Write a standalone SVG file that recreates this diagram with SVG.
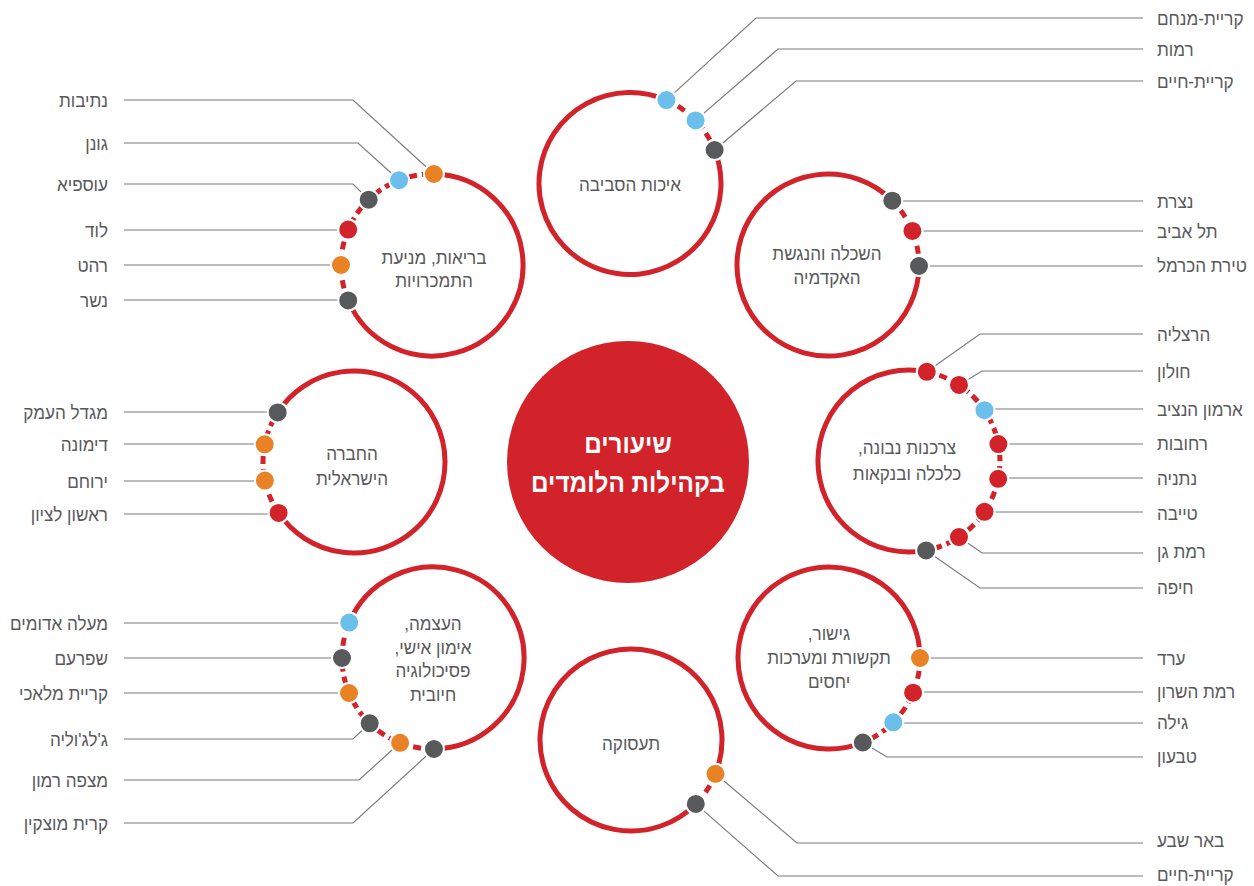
<svg xmlns="http://www.w3.org/2000/svg" width="1254" height="886" viewBox="0 0 1254 886">
<defs>
<style>
.bg{fill:#ffffff}
.ring{fill:none;stroke:#d2232a;stroke-width:5}
.dash{fill:none;stroke:#d2232a;stroke-width:5;stroke-dasharray:8 5}
.con{fill:none;stroke:#7a7b7e;stroke-width:1.2}
.dot{stroke:#ffffff;stroke-width:2}
.red{fill:#d2232a}.gry{fill:#58595b}.blu{fill:#6cbfea}.org{fill:#e88225}
.lbl{font-family:"Liberation Sans","DejaVu Sans",sans-serif;font-size:19px;fill:#58595b}
.ttl{font-family:"Liberation Sans","DejaVu Sans",sans-serif;font-size:19px;fill:#58595b;text-anchor:middle}
.ctr{font-family:"Liberation Sans","DejaVu Sans",sans-serif;font-size:27px;font-weight:bold;fill:#ffffff;text-anchor:middle}
.L{text-anchor:end}.R{text-anchor:start}
</style>
</defs>
<rect class="bg" x="0" y="0" width="1254" height="886"/>

<g id="connectors">
<polyline class="con" points="1143,18 756,18 666.4,100.1"/>
<polyline class="con" points="1143,49 778,49 695.6,120.4"/>
<polyline class="con" points="1143,81 796,81 714.6,150"/>
<polyline class="con" points="1143,201 892.3,201"/>
<polyline class="con" points="1143,231 912.4,231"/>
<polyline class="con" points="1143,266 919,266"/>
<polyline class="con" points="1143,334 980,334 926.8,371.8"/>
<polyline class="con" points="1143,371 982,371 959,384.9"/>
<polyline class="con" points="1143,409 984.5,409"/>
<polyline class="con" points="1143,444 998.4,444"/>
<polyline class="con" points="1143,478 998.2,478"/>
<polyline class="con" points="1143,512 984.5,512"/>
<polyline class="con" points="1143,553 982,553 959,537.1"/>
<polyline class="con" points="1143,588 980,588 926.1,550.4"/>
<polyline class="con" points="1143,658 920,658"/>
<polyline class="con" points="1143,692 913.1,692"/>
<polyline class="con" points="1143,723 893.3,723"/>
<polyline class="con" points="1143,757 887,757 862.8,742.5"/>
<polyline class="con" points="1143,843 797,843 715.5,773.8"/>
<polyline class="con" points="1143,876 778,876 695.8,803.9"/>
<polyline class="con" points="124,100 353,100 433.9,174"/>
<polyline class="con" points="124,143 358,143 399.1,180.2"/>
<polyline class="con" points="124,184 353,184 368.7,199.7"/>
<polyline class="con" points="124,230 348.2,230"/>
<polyline class="con" points="124,265 341,265"/>
<polyline class="con" points="124,300 348.2,300"/>
<polyline class="con" points="124,412 277.7,412"/>
<polyline class="con" points="124,444 264.7,444"/>
<polyline class="con" points="124,481 264.9,481"/>
<polyline class="con" points="124,514 278.6,514"/>
<polyline class="con" points="124,623 349.2,623"/>
<polyline class="con" points="124,658 342,658"/>
<polyline class="con" points="124,693 349,693"/>
<polyline class="con" points="124,739 353,739 369.7,723.3"/>
<polyline class="con" points="124,780 359,780 400.1,742.8"/>
<polyline class="con" points="124,823 353,823 433.95,749"/>
</g>

<g id="center">
<circle class="red" cx="628" cy="462" r="121"/>
<text class="ctr" transform="translate(628,453) scale(0.9,1)">שיעורים</text>
<text class="ctr" transform="translate(628,492) scale(0.9,1)">בקהילות הלומדים</text>
</g>

<g id="node-environment">
<path class="ring" d="M714.6,150 A91,91 0 1 1 666.4,100.1"/>
<path class="dash" d="M666.4,100.1 A91,91 0 0 1 714.6,150"/>
<circle class="dot blu" cx="666.4" cy="100.1" r="10"/>
<circle class="dot blu" cx="695.6" cy="120.4" r="10"/>
<circle class="dot gry" cx="714.6" cy="150" r="10"/>
<text class="ttl" transform="translate(630,191) scale(0.9,1)">איכות הסביבה</text>
<text class="lbl R" transform="translate(1157,25) scale(0.9,1)">קריית-מנחם</text>
<text class="lbl R" transform="translate(1157,56) scale(0.9,1)">רמות</text>
<text class="lbl R" transform="translate(1157,88) scale(0.9,1)">קריית-חיים</text>
</g>

<g id="node-health">
<path class="ring" d="M433.9,174 A91,91 0 1 1 348.2,300.4"/>
<path class="dash" d="M348.2,300.4 A91,91 0 0 1 433.9,174"/>
<circle class="dot org" cx="433.9" cy="174" r="10"/>
<circle class="dot blu" cx="399.1" cy="180.2" r="10"/>
<circle class="dot gry" cx="368.7" cy="199.7" r="10"/>
<circle class="dot red" cx="348.2" cy="229.6" r="10"/>
<circle class="dot org" cx="341" cy="265" r="10"/>
<circle class="dot gry" cx="348.2" cy="300.4" r="10"/>
<text class="ttl" transform="translate(434,264) scale(0.9,1)">בריאות, מניעת</text>
<text class="ttl" transform="translate(434,287) scale(0.9,1)">התמכרויות</text>
<text class="lbl L" transform="translate(108,107) scale(0.9,1)">נתיבות</text>
<text class="lbl L" transform="translate(108,150) scale(0.9,1)">גונן</text>
<text class="lbl L" transform="translate(108,191) scale(0.9,1)">עוספיא</text>
<text class="lbl L" transform="translate(108,237) scale(0.9,1)">לוד</text>
<text class="lbl L" transform="translate(108,272) scale(0.9,1)">רהט</text>
<text class="lbl L" transform="translate(108,307) scale(0.9,1)">נשר</text>
</g>

<g id="node-education">
<path class="ring" d="M919,266 A91,91 0 1 1 892.3,200.7"/>
<path class="dash" d="M892.3,200.7 A91,91 0 0 1 919,266"/>
<circle class="dot gry" cx="892.3" cy="200.7" r="10"/>
<circle class="dot red" cx="912.4" cy="230.9" r="10"/>
<circle class="dot gry" cx="919" cy="266" r="10"/>
<text class="ttl" transform="translate(827,260) scale(0.9,1)">השכלה והנגשת</text>
<text class="ttl" transform="translate(827,284) scale(0.9,1)">האקדמיה</text>
<text class="lbl R" transform="translate(1157,208) scale(0.9,1)">נצרת</text>
<text class="lbl R" transform="translate(1157,238) scale(0.9,1)">תל אביב</text>
<text class="lbl R" transform="translate(1157,272) scale(0.9,1)">טירת הכרמל</text>
</g>

<g id="node-consumer">
<path class="ring" d="M926.1,550.4 A91,91 0 1 1 926.8,371.8"/>
<path class="dash" d="M926.8,371.8 A91,91 0 0 1 926.1,550.4"/>
<circle class="dot red" cx="926.8" cy="371.8" r="10"/>
<circle class="dot red" cx="959" cy="384.9" r="10"/>
<circle class="dot blu" cx="984.5" cy="410.2" r="10"/>
<circle class="dot red" cx="998.4" cy="444.1" r="10"/>
<circle class="dot red" cx="998.2" cy="478.8" r="10"/>
<circle class="dot red" cx="984.5" cy="511.8" r="10"/>
<circle class="dot red" cx="959" cy="537.1" r="10"/>
<circle class="dot gry" cx="926.1" cy="550.4" r="10"/>
<text class="ttl" transform="translate(907,454) scale(0.9,1)">צרכנות נבונה,&#x200F;</text>
<text class="ttl" transform="translate(907,480) scale(0.9,1)">כלכלה ובנקאות</text>
<text class="lbl R" transform="translate(1157,341) scale(0.9,1)">הרצליה</text>
<text class="lbl R" transform="translate(1157,378) scale(0.9,1)">חולון</text>
<text class="lbl R" transform="translate(1157,416) scale(0.9,1)">ארמון הנציב</text>
<text class="lbl R" transform="translate(1157,450) scale(0.9,1)">רחובות</text>
<text class="lbl R" transform="translate(1157,485) scale(0.9,1)">נתניה</text>
<text class="lbl R" transform="translate(1157,520) scale(0.9,1)">טייבה</text>
<text class="lbl R" transform="translate(1157,558) scale(0.9,1)">רמת גן</text>
<text class="lbl R" transform="translate(1157,594) scale(0.9,1)">חיפה</text>
</g>

<g id="node-society">
<path class="ring" d="M277.7,412.4 A91,91 0 1 1 278.6,512.9"/>
<path class="dash" d="M278.6,512.9 A91,91 0 0 1 277.7,412.4"/>
<circle class="dot gry" cx="277.7" cy="412.4" r="10"/>
<circle class="dot org" cx="264.7" cy="444.3" r="10"/>
<circle class="dot org" cx="264.9" cy="480.6" r="10"/>
<circle class="dot red" cx="278.6" cy="512.9" r="10"/>
<text class="ttl" transform="translate(352,460) scale(0.9,1)">החברה</text>
<text class="ttl" transform="translate(352,485) scale(0.9,1)">הישראלית</text>
<text class="lbl L" transform="translate(108,419) scale(0.9,1)">מגדל העמק</text>
<text class="lbl L" transform="translate(108,451) scale(0.9,1)">דימונה</text>
<text class="lbl L" transform="translate(108,488) scale(0.9,1)">ירוחם</text>
<text class="lbl L" transform="translate(108,521) scale(0.9,1)">ראשון לציון</text>
</g>

<g id="node-empowerment">
<path class="ring" d="M349.2,622.6 A91,91 0 1 1 433.95,749"/>
<path class="dash" d="M433.95,749 A91,91 0 0 1 349.2,622.6"/>
<circle class="dot blu" cx="349.2" cy="622.6" r="10"/>
<circle class="dot gry" cx="342" cy="658" r="10"/>
<circle class="dot org" cx="349" cy="693" r="10"/>
<circle class="dot gry" cx="369.7" cy="723.3" r="10"/>
<circle class="dot org" cx="400.1" cy="742.8" r="10"/>
<circle class="dot gry" cx="433.95" cy="749" r="10"/>
<text class="ttl" transform="translate(433,630) scale(0.9,1)">העצמה,&#x200F;</text>
<text class="ttl" transform="translate(433,654) scale(0.9,1)">אימון אישי,&#x200F;</text>
<text class="ttl" transform="translate(433,677) scale(0.9,1)">פסיכולוגיה</text>
<text class="ttl" transform="translate(433,701) scale(0.9,1)">חיובית</text>
<text class="lbl L" transform="translate(108,630) scale(0.9,1)">מעלה אדומים</text>
<text class="lbl L" transform="translate(108,665) scale(0.9,1)">שפרעם</text>
<text class="lbl L" transform="translate(108,700) scale(0.9,1)">קריית מלאכי</text>
<text class="lbl L" transform="translate(108,746) scale(0.9,1)">ג'לג'וליה</text>
<text class="lbl L" transform="translate(108,787) scale(0.9,1)">מצפה רמון</text>
<text class="lbl L" transform="translate(108,830) scale(0.9,1)">קרית מוצקין</text>
</g>

<g id="node-mediation">
<path class="ring" d="M862.8,742.5 A91,91 0 1 1 920,658"/>
<path class="dash" d="M920,658 A91,91 0 0 1 862.8,742.5"/>
<circle class="dot org" cx="920" cy="658" r="10"/>
<circle class="dot red" cx="913.1" cy="692.7" r="10"/>
<circle class="dot blu" cx="893.3" cy="722.3" r="10"/>
<circle class="dot gry" cx="862.8" cy="742.5" r="10"/>
<text class="ttl" transform="translate(829,640) scale(0.9,1)">גישור,&#x200F;</text>
<text class="ttl" transform="translate(829,664) scale(0.9,1)">תקשורת ומערכות</text>
<text class="ttl" transform="translate(829,688) scale(0.9,1)">יחסים</text>
<text class="lbl R" transform="translate(1157,665) scale(0.9,1)">ערד</text>
<text class="lbl R" transform="translate(1157,698) scale(0.9,1)">רמת השרון</text>
<text class="lbl R" transform="translate(1157,729) scale(0.9,1)">גילה</text>
<text class="lbl R" transform="translate(1157,763) scale(0.9,1)">טבעון</text>
</g>

<g id="node-employment">
<path class="ring" d="M695.8,803.9 A91,91 0 1 1 715.5,773.8"/>
<path class="dash" d="M715.5,773.8 A91,91 0 0 1 695.8,803.9"/>
<circle class="dot org" cx="715.5" cy="773.8" r="10"/>
<circle class="dot gry" cx="695.8" cy="803.9" r="10"/>
<text class="ttl" transform="translate(631,750) scale(0.9,1)">תעסוקה</text>
<text class="lbl R" transform="translate(1157,847) scale(0.9,1)">באר שבע</text>
<text class="lbl R" transform="translate(1157,881) scale(0.9,1)">קריית-חיים</text>
</g>
</svg>
